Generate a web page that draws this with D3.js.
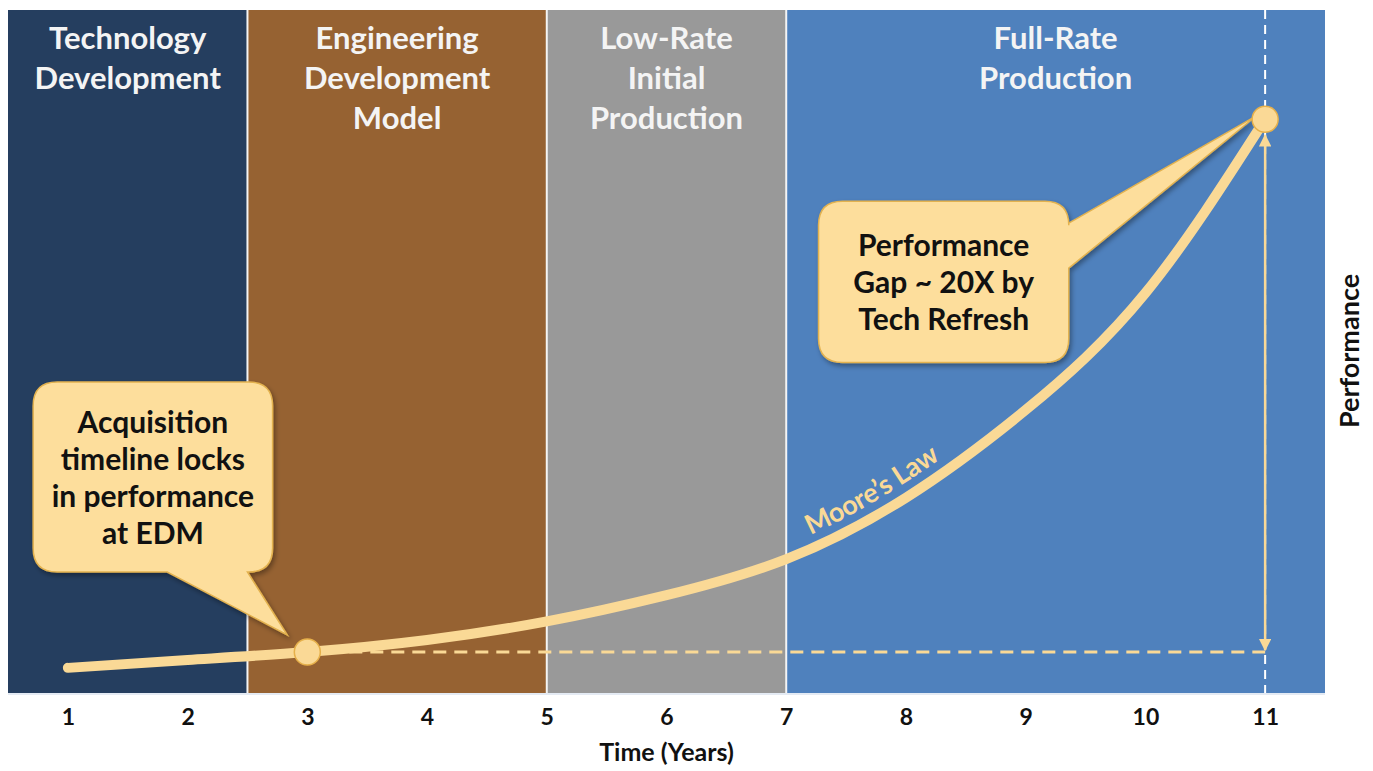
<!DOCTYPE html>
<html>
<head>
<meta charset="utf-8">
<script src="https://cdn.jsdelivr.net/npm/d3@7"></script>
<style>
  html, body { margin: 0; padding: 0; background: #ffffff; }
  svg { display: block; }
  text { font-family: Lato, "Open Sans", "DejaVu Sans", sans-serif; font-weight: 700; }
</style>
</head>
<body>
<svg id="chart" width="1373" height="771"></svg>
<script>
// ---------- data ----------
const years = [1, 2, 3, 4, 5, 6, 7, 8, 9, 10, 11];
const tickLabels = ["1", "2", "3", "4", "5", "6", "7", "8", "9", "10", "11"];
const performance = [0.92, 1.21, 1.50, 1.94, 2.62, 3.58, 4.90, 7.15, 10.36, 14.64, 21.0];

const phaseNames = ["Technology Development", "Engineering Development Model", "Low-Rate Initial Production", "Full-Rate Production"];
const phaseTitles = [["Technology", "Development"], ["Engineering", "Development", "Model"], ["Low-Rate", "Initial", "Production"], ["Full-Rate", "Production"]];
const phaseStart = [0.5, 2.5, 5, 7];
const phaseEnd = [2.5, 5, 7, 11.5];
const phaseColors = ["#253E5F", "#966232", "#999999", "#4F81BD"];

const lockYear = 3;          // EDM lock-in point
const refreshYear = 11;      // tech refresh point
const lockPerf = 1.5;
const refreshPerf = 21.0;

const callout1Lines = ["Acquisition", "timeline locks", "in performance", "at EDM"];
const callout2Lines = ["Performance", "Gap ~ 20X by", "Tech Refresh"];
const curveLabel = "Moore\u2019s Law";
const xTitle = "Time (Years)";
const yTitle = "Performance";

// ---------- layout ----------
const plot = { left: 8, right: 1325, top: 10, bottom: 693 };
const svg = d3.select("#chart");

const x = d3.scaleLinear().domain([0.5, 11.5]).range([plot.left, plot.right]);
const y = d3.scaleLinear().domain([0, 25]).range([plot.bottom, plot.top]);

const yellow = "#FAD996";
const calloutFill = "#FDDE9C";
const calloutStroke = "#E3B24F";

const defs = svg.append("defs");
const shadow = defs.append("filter").attr("id", "shadow").attr("x", "-20%").attr("y", "-20%").attr("width", "140%").attr("height", "140%");
shadow.append("feDropShadow").attr("dx", 2).attr("dy", 3).attr("stdDeviation", 2.5).attr("flood-color", "#000").attr("flood-opacity", 0.35);

defs.append("marker").attr("id", "arrowEnd").attr("viewBox", "0 0 10 10").attr("refX", 9).attr("refY", 5)
  .attr("markerWidth", 5).attr("markerHeight", 5).attr("orient", "auto-start-reverse").attr("markerUnits", "strokeWidth")
  .append("path").attr("d", "M0,0 L10,5 L0,10 z").attr("fill", yellow);

// ---------- phase bands ----------
const phases = phaseNames.map((n, i) => ({ name: n, start: phaseStart[i], end: phaseEnd[i], color: phaseColors[i], title: phaseTitles[i] }));

svg.append("g").selectAll("rect").data(phases).join("rect")
  .attr("x", d => x(d.start)).attr("y", plot.top)
  .attr("width", d => x(d.end) - x(d.start)).attr("height", plot.bottom - plot.top)
  .attr("fill", d => d.color);

svg.append("g").selectAll("line").data(phaseStart.slice(1)).join("line")
  .attr("x1", d => x(d)).attr("x2", d => x(d)).attr("y1", plot.top).attr("y2", plot.bottom)
  .attr("stroke", "#f4f4f4").attr("stroke-width", 2);

svg.append("line").attr("x1", plot.left).attr("x2", plot.right).attr("y1", plot.bottom + 1).attr("y2", plot.bottom + 1)
  .attr("stroke", "#c9d6e8").attr("stroke-width", 1);

// phase titles
const titleG = svg.append("g");
phases.forEach(p => {
  const cx = (x(p.start) + x(p.end)) / 2;
  const t = titleG.append("text").attr("text-anchor", "middle").attr("fill", "#F4F4F4").attr("font-size", 31);
  p.title.forEach((line, j) => {
    t.append("tspan").attr("x", cx).attr("y", 49 + j * 40).text(line);
  });
});

// vertical dashed white line at refresh year
svg.append("line").attr("x1", x(refreshYear)).attr("x2", x(refreshYear))
  .attr("y1", plot.top).attr("y2", plot.bottom)
  .attr("stroke", "#ffffff").attr("stroke-width", 2).attr("stroke-dasharray", "9,6");

// horizontal dashed yellow line (locked performance)
svg.append("line").attr("x1", x(lockYear)).attr("x2", x(refreshYear))
  .attr("y1", y(lockPerf)).attr("y2", y(lockPerf))
  .attr("stroke", yellow).attr("stroke-width", 3).attr("stroke-dasharray", "13,8");

// vertical double arrow (performance gap)
svg.append("line").attr("x1", x(refreshYear)).attr("x2", x(refreshYear))
  .attr("y1", y(refreshPerf) + 16).attr("y2", y(lockPerf) - 2)
  .attr("stroke", yellow).attr("stroke-width", 2.5)
  .attr("marker-start", "url(#arrowEnd)").attr("marker-end", "url(#arrowEnd)");

// ---------- Moore's law curve ----------
const pts = years.map((yr, i) => [yr, performance[i]]);
const line = d3.line().x(d => x(d[0])).y(d => y(d[1])).curve(d3.curveNatural);
const curve = svg.append("path").attr("id", "mooreCurve").attr("d", line(pts))
  .attr("fill", "none").attr("stroke", yellow).attr("stroke-width", 10).attr("stroke-linecap", "round");

const node = curve.node();
const total = node.getTotalLength();
let lo = 0, hi = total;
const targetX = x(7.25);
for (let k = 0; k < 40; k++) { const mid = (lo + hi) / 2; if (node.getPointAtLength(mid).x < targetX) lo = mid; else hi = mid; }
svg.append("text").attr("fill", yellow).attr("font-size", 27).attr("dy", -13)
  .append("textPath").attr("href", "#mooreCurve").attr("startOffset", lo).text(curveLabel);

// ---------- callouts ----------
function calloutBottom(x0, y0, x1, y1, r, tb0, tb1, tip) {
  return `M${x0 + r},${y0} H${x1 - r} Q${x1},${y0} ${x1},${y0 + r} V${y1 - r} Q${x1},${y1} ${x1 - r},${y1} ` +
    `H${tb1} L${tip[0]},${tip[1]} L${tb0},${y1} H${x0 + r} Q${x0},${y1} ${x0},${y1 - r} V${y0 + r} Q${x0},${y0} ${x0 + r},${y0} Z`;
}
function calloutRight(x0, y0, x1, y1, r, tb0, tb1, tip) {
  return `M${x0 + r},${y0} H${x1 - r} Q${x1},${y0} ${x1},${y0 + r} V${tb0} L${tip[0]},${tip[1]} L${x1},${tb1} V${y1 - r} ` +
    `Q${x1},${y1} ${x1 - r},${y1} H${x0 + r} Q${x0},${y1} ${x0},${y1 - r} V${y0 + r} Q${x0},${y0} ${x0 + r},${y0} Z`;
}

const c1 = { x0: x(0.71), x1: x(2.71), y0: y(11.38), y1: y(4.43) };
svg.append("path")
  .attr("d", calloutBottom(c1.x0, c1.y0, c1.x1, c1.y1, 24, x(1.83), x(2.5), [x(lockYear) - 20, y(lockPerf) - 17]))
  .attr("fill", calloutFill).attr("stroke", calloutStroke).attr("stroke-width", 1.5).attr("filter", "url(#shadow)");
const t1 = svg.append("text").attr("text-anchor", "middle").attr("fill", "#111").attr("font-size", 30);
callout1Lines.forEach((l, j) => t1.append("tspan").attr("x", (c1.x0 + c1.x1) / 2).attr("y", 433 + j * 37).text(l));

const c2 = { x0: x(7.27), x1: x(9.36), y0: y(18.0), y1: y(12.1) };
svg.append("path")
  .attr("d", calloutRight(c2.x0, c2.y0, c2.x1, c2.y1, 24, y(17.2), y(15.55), [x(refreshYear) - 8, y(refreshPerf) - 4]))
  .attr("fill", calloutFill).attr("stroke", calloutStroke).attr("stroke-width", 1.5).attr("filter", "url(#shadow)");
const t2 = svg.append("text").attr("text-anchor", "middle").attr("fill", "#111").attr("font-size", 30);
callout2Lines.forEach((l, j) => t2.append("tspan").attr("x", (c2.x0 + c2.x1) / 2).attr("y", 256 + j * 37).text(l));

// ---------- points ----------
svg.append("g").selectAll("circle").data([[lockYear, lockPerf], [refreshYear, refreshPerf]]).join("circle")
  .attr("cx", d => x(d[0])).attr("cy", d => y(d[1])).attr("r", 13)
  .attr("fill", yellow).attr("stroke", "#E6B04A").attr("stroke-width", 1.5);

// ---------- axes ----------
const xAxis = d3.axisBottom(x).tickValues(years).tickFormat((d, i) => tickLabels[i]).tickSize(0).tickPadding(16);
const ax = svg.append("g").attr("transform", `translate(0,${plot.bottom})`).call(xAxis);
ax.select(".domain").remove();
ax.selectAll("text").attr("font-size", 23).attr("fill", "#111").style("font-family", "Lato, sans-serif").style("font-weight", 700);

svg.append("text").attr("x", x(6)).attr("y", 761).attr("text-anchor", "middle").attr("font-size", 25).attr("fill", "#111").text(xTitle);

svg.append("text").attr("transform", `translate(1359,351) rotate(-90)`).attr("text-anchor", "middle")
  .attr("font-size", 27).attr("fill", "#111").text(yTitle);
</script>
</body>
</html>
